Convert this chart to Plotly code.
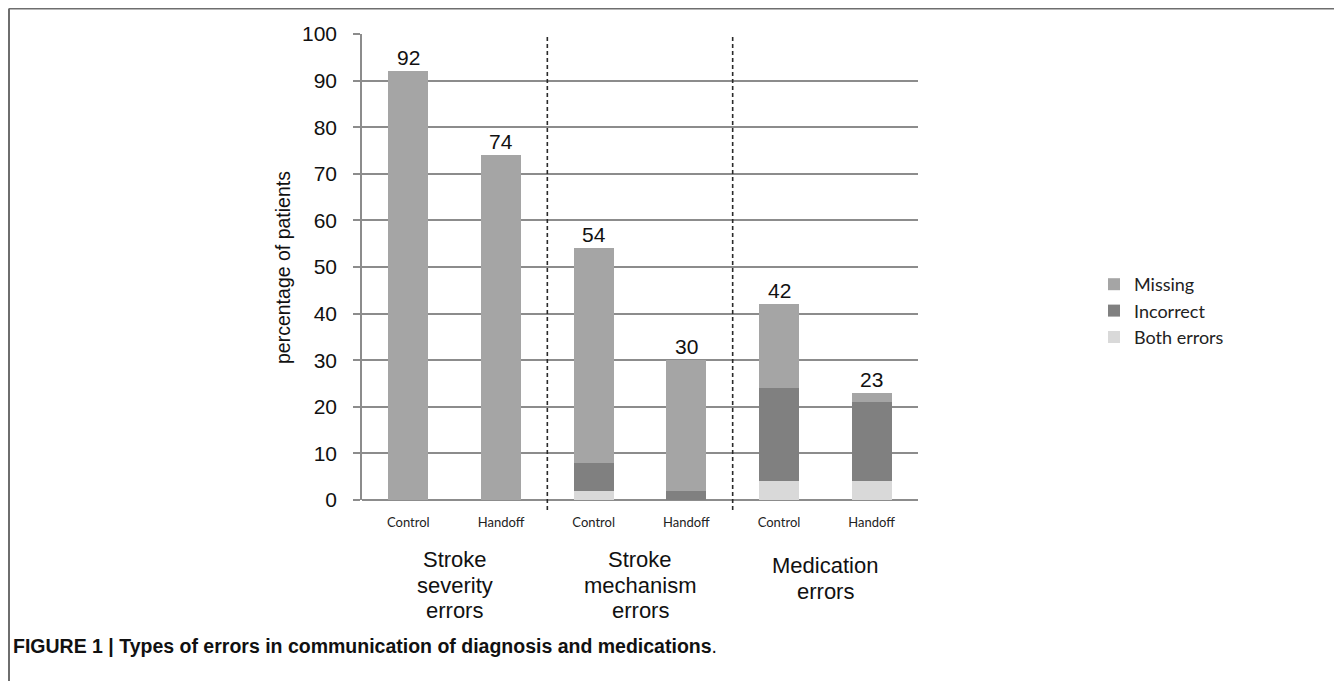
import plotly.graph_objects as go

# ---- data ----
positions = [0, 1, 2, 3, 4, 5]
bar_labels = ["Control", "Handoff", "Control", "Handoff", "Control", "Handoff"]
group_centers = [0.5, 2.5, 4.5]
group_lines = [["Stroke", "severity", "errors"],
               ["Stroke", "mechanism", "errors"],
               ["Medication", "errors"]]
both_errors = [0, 0, 2, 0, 4, 4]
incorrect = [0, 0, 6, 2, 20, 17]
missing = [92, 74, 46, 28, 18, 2]
totals = [92, 74, 54, 30, 42, 23]
y_ticks = [0, 10, 20, 30, 40, 50, 60, 70, 80, 90, 100]

# ---- geometry helpers (screen pixel -> paper); page body has an 8px offset ----
OFF = 8
W, H = 1342 - OFF, 681 - OFF
SX0, SX1, SYB, SYT = 362, 918, 500, 34   # plot area in screen pixels


def px_x(p):
    return (p - SX0) / (SX1 - SX0)


def px_y(p):
    return (SYB - p) / (SYB - SYT)


GRID = "#8c8c8c"
C_MISSING = "#a5a5a5"
C_INCORRECT = "#808080"
C_BOTH = "#d9d9d9"
ARIAL = "Liberation Sans, Arial"
CALIBRI = "Lato, Open Sans"

fig = go.Figure()
fig.add_trace(go.Bar(x=positions, y=both_errors, name="Both errors",
                     marker=dict(color=C_BOTH, line=dict(width=0))))
fig.add_trace(go.Bar(x=positions, y=incorrect, name="Incorrect",
                     marker=dict(color=C_INCORRECT, line=dict(width=0))))
fig.add_trace(go.Bar(x=positions, y=missing, name="Missing",
                     marker=dict(color=C_MISSING, line=dict(width=0))))

annotations = []
for xpos, tot in zip(positions, totals):
    annotations.append(dict(x=xpos, y=tot, xref="x", yref="y", text=str(tot),
                            showarrow=False, yanchor="bottom",
                            font=dict(family=ARIAL, size=21, color="#111111")))

# group labels, one annotation per line
line_centers = {3: [559, 585, 610], 2: [565, 591]}
for gx, lines in zip(group_centers, group_lines):
    for ln, cy in zip(lines, line_centers[len(lines)]):
        annotations.append(dict(x=gx, y=px_y(cy), xref="x", yref="paper", text=ln,
                                showarrow=False, yanchor="middle", xanchor="center",
                                font=dict(family=ARIAL, size=22, color="#111111")))

annotations.append(dict(x=px_x(283), y=px_y(268), xref="paper", yref="paper",
                        text="percentage of patients", textangle=-90, showarrow=False,
                        xanchor="center", yanchor="middle",
                        font=dict(family=ARIAL, size=19.5, color="#111111")))

annotations.append(dict(x=px_x(11), y=px_y(646), xref="paper", yref="paper",
                        text="<b>FIGURE 1 | Types of errors in communication of diagnosis and medications</b>.",
                        showarrow=False, xanchor="left", yanchor="middle",
                        font=dict(family=ARIAL, size=19.5, color="#111111")))

shapes = []
for dx in [1.5, 3.5]:
    shapes.append(dict(type="line", xref="x", yref="paper", x0=dx, x1=dx,
                       y0=px_y(510), y1=1.0, line=dict(color="#2a2a2a", width=1.6, dash="4px,3px")))
# frame
shapes.append(dict(type="line", xref="paper", yref="paper", x0=px_x(9), x1=px_x(1342),
                   y0=px_y(8.5), y1=px_y(8.5), line=dict(color="#6e6e6e", width=2)))
shapes.append(dict(type="line", xref="paper", yref="paper", x0=px_x(9), x1=px_x(9),
                   y0=px_y(8.5), y1=px_y(681), line=dict(color="#6e6e6e", width=2)))

fig.update_layout(
    width=W, height=H,
    barmode="stack", bargap=0.57,
    plot_bgcolor="white", paper_bgcolor="white",
    margin=dict(l=SX0 - OFF, r=W - (SX1 - OFF), t=SYT - OFF, b=H - (SYB - OFF), autoexpand=False),
    showlegend=True,
    legend=dict(x=px_x(1094), y=px_y(266), xanchor="left", yanchor="top",
                traceorder="reversed", font=dict(family=CALIBRI, size=18, color="#222222"),
                itemwidth=30, tracegroupgap=0, bgcolor="rgba(0,0,0,0)"),
    xaxis=dict(range=[-0.5, 5.5], tickmode="array", tickvals=positions, ticktext=bar_labels,
               showgrid=False, zeroline=False, showline=False, ticks="",
               ticklabelstandoff=13,
               tickfont=dict(family=CALIBRI, size=13, color="#222222")),
    yaxis=dict(range=[0, 100], tickmode="array", tickvals=y_ticks, showgrid=True,
               gridcolor=GRID, gridwidth=1.5, zeroline=True, zerolinecolor=GRID, zerolinewidth=1.5,
               showline=True, linecolor=GRID, linewidth=1.5,
               ticks="outside", ticklen=7, tickcolor=GRID, tickwidth=1.5,
               ticklabelstandoff=12,
               tickfont=dict(family=ARIAL, size=21, color="#111111")),
    annotations=annotations,
    shapes=shapes,
)

fig.write_html("out.html")
